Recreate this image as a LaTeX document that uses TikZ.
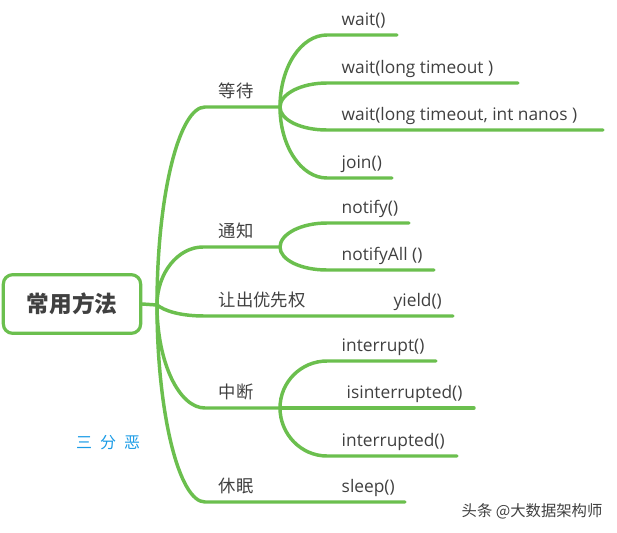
\documentclass[tikz,border=0pt]{standalone}
\usepackage{fontspec}
\setmainfont{Open Sans}
\newfontfamily\cjk{Noto Sans CJK SC}
\usetikzlibrary{positioning}
\definecolor{cgreen}{HTML}{6BBF4E}
\definecolor{ctext}{HTML}{404040}
\definecolor{cblue}{HTML}{1A9BE6}
\tikzset{
  every picture/.style={line width=2.6pt, line cap=round},
  branch/.style={draw=cgreen},
  rootbox/.style={draw=cgreen, rounded corners=7pt, line width=2.4pt, fill=white, minimum width=103pt, minimum height=44pt, font=\cjk\bfseries\fontsize{17}{18}\selectfont, text=ctext},
  topic/.style={anchor=base west, inner sep=0pt, font=\cjk\fontsize{13}{14}\selectfont, text=ctext},
  leaf/.style={anchor=base west, inner sep=0pt, font=\fontsize{13}{14}\selectfont, text=ctext},
  wmark/.style={anchor=base west, inner sep=0pt, font=\cjk\fontsize{11.5}{12}\selectfont, text=ctext},
}

\begin{document}
\begin{tikzpicture}[x=0.75pt, y=-0.75pt]
  \useasboundingbox (0,0) rectangle (617,532);
  % root and hubs
  \node[rootbox] (root) at (72,304) {常用方法};
  \coordinate (h0) at (157,305);
  \coordinate (wt1) at (205,107); \coordinate (wt) at (280,107);
  \coordinate (tz1) at (203,247); \coordinate (tz) at (280,247);
  \coordinate (rc1) at (205,316); \coordinate (rc2) at (453,316);
  \coordinate (zd1) at (205,408); \coordinate (zd) at (280,408);
  \coordinate (xm1) at (205,502); \coordinate (xm2) at (405,502);
  \draw[branch] (root.east) -- (h0);
  \draw[branch] (h0) .. controls +(0,-109) and +(-26,0) .. (wt1) -- (wt);
  \draw[branch] (h0) .. controls +(0,-32) and +(-25,0) .. (tz1) -- (tz);
  \draw[branch] (h0) .. controls +(8,6) and +(-25,0) .. (rc1) -- (rc2);
  \draw[branch] (h0) .. controls +(0,57) and +(-26,0) .. (zd1) -- (zd);
  \draw[branch] (h0) .. controls +(0,108) and +(-26,0) .. (xm1) -- (xm2);
  % leaves
  \coordinate (w1a) at (327,35);  \coordinate (w1b) at (397,35);
  \coordinate (w2a) at (327,83);  \coordinate (w2b) at (518,83);
  \coordinate (w3a) at (327,130); \coordinate (w3b) at (603,130);
  \coordinate (w4a) at (327,178); \coordinate (w4b) at (392,178);
  \coordinate (n1a) at (327,223); \coordinate (n1b) at (409,223);
  \coordinate (n2a) at (327,270); \coordinate (n2b) at (434,270);
  \coordinate (i1a) at (327,361); \coordinate (i1b) at (436,361);
  \coordinate (i2b) at (474,408);
  \coordinate (i3a) at (327,456); \coordinate (i3b) at (457,456);
  \draw[branch] (wt) .. controls +(0,-40) and +(-26,0) .. (w1a) -- (w1b);
  \draw[branch] (wt) .. controls +(0,-13) and +(-26,0) .. (w2a) -- (w2b);
  \draw[branch] (wt) .. controls +(0,13) and +(-26,0) .. (w3a) -- (w3b);
  \draw[branch] (wt) .. controls +(0,39) and +(-26,0) .. (w4a) -- (w4b);
  \draw[branch] (tz) .. controls +(0,-13) and +(-26,0) .. (n1a) -- (n1b);
  \draw[branch] (tz) .. controls +(0,13) and +(-26,0) .. (n2a) -- (n2b);
  \draw[branch] (zd) .. controls +(0,-26) and +(-26,0) .. (i1a) -- (i1b);
  \draw[branch] (zd) -- (i2b);
  \draw[branch] (zd) .. controls +(0,26) and +(-26,0) .. (i3a) -- (i3b);
  % labels
  \node[topic] (ddt) at (217,97) {等待};
  \node[topic] (tzt) at (217,237) {通知};
  \node[topic] (rct) at (217,306) {让出优先权};
  \node[topic] (zdt) at (217,398) {中断};
  \node[topic] (xmt) at (217,492) {休眠};
  \node[leaf] (w1t) at (340,25) {wait()};
  \node[leaf] (w2t) at (340,73) {wait(long timeout~)};
  \node[leaf] (w3t) at (340,120) {wait(long timeout, int nanos~)};
  \node[leaf] (w4t) at (340,168) {join()};
  \node[leaf] (n1t) at (340,213) {notify()};
  \node[leaf] (n2t) at (340,260) {notifyAll ()};
  \node[leaf] (rcv) at (392,306) {yield()};
  \node[leaf] (i1t) at (340,351) {interrupt()};
  \node[leaf] (i2t) at (345,398) {isinterrupted()};
  \node[leaf] (i3t) at (340,446) {interrupted()};
  \node[leaf] (xmv) at (340,492) {sleep()};
  \node[anchor=center, text=cblue, font=\cjk\fontsize{12}{13}\selectfont] (sfe) at (108,443) {三\hspace{6pt}分\hspace{6pt}恶};
  \node[wmark] (wm) at (460,516) {头条 @大数据架构师};
\end{tikzpicture}
\end{document}
